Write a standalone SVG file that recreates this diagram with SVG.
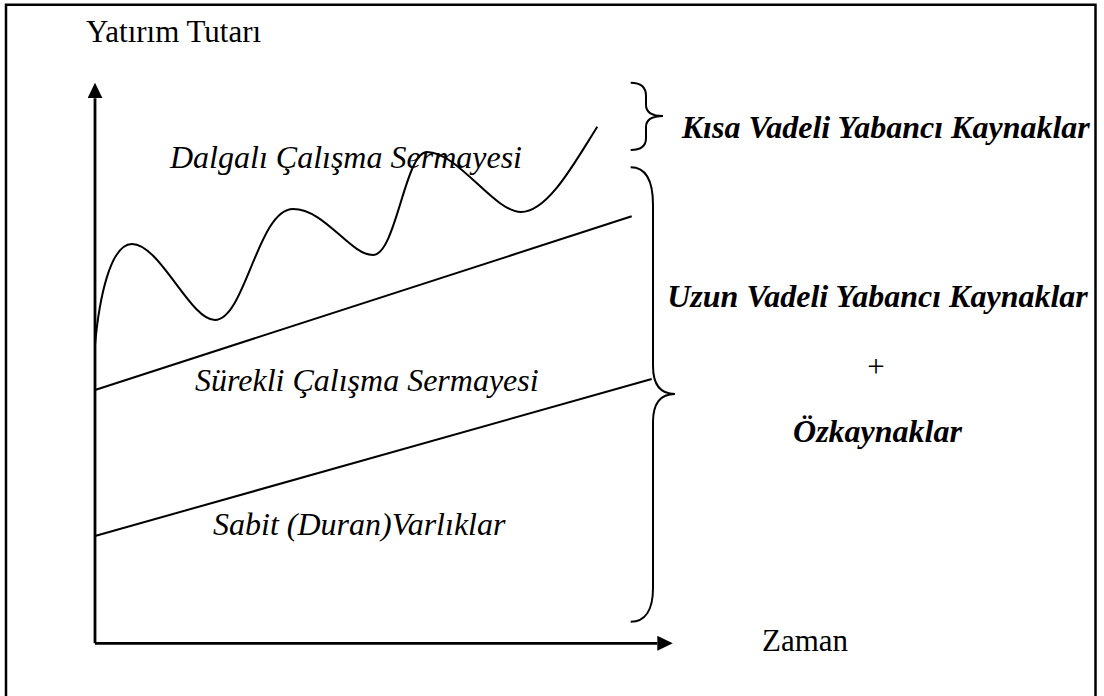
<svg xmlns="http://www.w3.org/2000/svg" width="1104" height="696" viewBox="0 0 1104 696">
  <style>
    .t { font-family: "Liberation Serif", "Times New Roman", serif; fill: #000; }
    .reg { font-size: 31px; }
    .it { font-size: 32px; font-style: italic; }
    .bi { font-size: 32px; font-style: italic; font-weight: bold; }
    .ln { fill: none; stroke: #000; stroke-width: 2; }
    .ax { fill: none; stroke: #000; stroke-width: 2.8; }
    .br { fill: none; stroke: #000; stroke-width: 2; }
  </style>
  <defs>
    <marker id="arrow" markerUnits="userSpaceOnUse" markerWidth="16" markerHeight="16" refX="0" refY="7.5" orient="auto">
      <path d="M0,0 L15.5,7.5 L0,15 Z" fill="#000"/>
    </marker>
  </defs>
  <rect width="1104" height="696" fill="#fff"/>
  <g id="frame">
    <path d="M6,696 V4.7 H1095.5 V696" fill="none" stroke="#000" stroke-width="2.5"/>
  </g>
  <g id="connectors">
    <line id="y-axis" class="ax" x1="95" y1="643.3" x2="95" y2="98.3" marker-end="url(#arrow)"/>
    <line id="x-axis" class="ax" x1="95" y1="643.3" x2="657.3" y2="643.3" marker-end="url(#arrow)"/>
    <path id="wave" class="ln" d="M95,345 C99,300 110,244 132,244 C160,244 190,320 215,320 C245,320 258,209 293,209 C325,209 350,255 373,255 C396,255 405,152 427,152 C458,152 494,212 521,212 C548,212 575,162 597.3,126.7"/>
    <line id="line-surekli" class="ln" x1="95" y1="390" x2="631.7" y2="216.3"/>
    <line id="line-sabit" class="ln" x1="95" y1="536" x2="651.7" y2="379"/>
  </g>
  <g id="brace-short">
    <path class="br" d="M630.7,82.7 C641,82.7 646,87 646,96 L646,105 C646,112 651,116 663,116 C651,116 646,120 646,127 L646,138 C646,146 641,150 630.7,150"/>
  </g>
  <g id="brace-long">
    <path class="br" d="M630.7,167.3 C645,167.3 653,180 653,205 L653,366 C653,385 661,394 675,394 C661,394 653,403 653,422 L653,588 C653,610 645,621.7 630.7,621.7"/>
  </g>
  <g id="label-yatirim">
    <text class="t reg" x="86" y="41.7">Yatırım Tutarı</text>
  </g>
  <g id="label-zaman">
    <text class="t reg" x="762" y="650.7">Zaman</text>
  </g>
  <g id="label-dalgali">
    <text class="t it" x="170" y="168.3">Dalgalı Çalışma Sermayesi</text>
  </g>
  <g id="label-surekli">
    <text class="t it" x="195" y="390.5">Sürekli Çalışma Sermayesi</text>
  </g>
  <g id="label-sabit">
    <text class="t it" x="213" y="535">Sabit (Duran)Varlıklar</text>
  </g>
  <g id="label-kisa">
    <text class="t bi" x="681.7" y="138.3">Kısa Vadeli Yabancı Kaynaklar</text>
  </g>
  <g id="label-uzun">
    <text class="t bi" x="877.5" y="306.7" text-anchor="middle">Uzun Vadeli Yabancı Kaynaklar</text>
  </g>
  <g id="label-plus">
    <text class="t reg" x="876" y="376.5" text-anchor="middle">+</text>
  </g>
  <g id="label-ozkaynaklar">
    <text class="t bi" x="877.5" y="441.7" text-anchor="middle">Özkaynaklar</text>
  </g>
</svg>
